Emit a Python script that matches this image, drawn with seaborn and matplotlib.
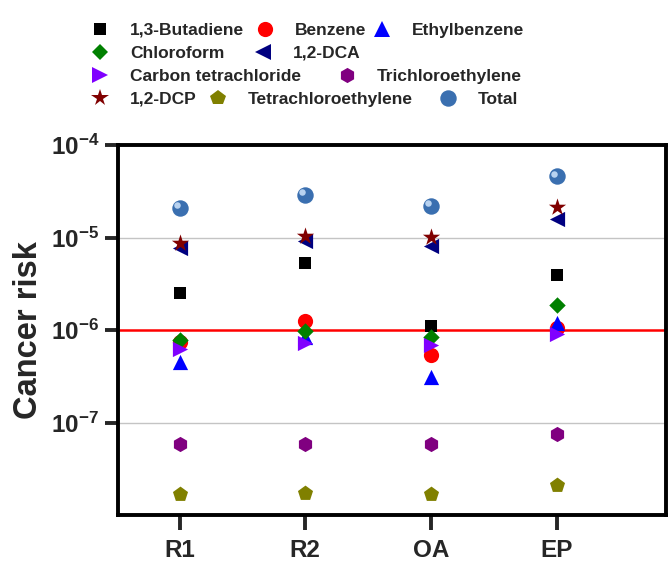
import seaborn as sns
import pandas as pd
import numpy as np
import matplotlib
matplotlib.use("Agg")
import matplotlib.pyplot as plt
from matplotlib.lines import Line2D
from matplotlib.ticker import FixedLocator, FuncFormatter, NullLocator
from matplotlib.transforms import ScaledTranslation

# cancer risk per site
sites = ["R1", "R2", "OA", "EP"]
butadiene = [2.5e-6, 5.3e-6, 1.1e-6, 3.9e-6]
benzene = [7.5e-7, 1.25e-6, 5.4e-7, 1.05e-6]
ethylbenzene = [4.5e-7, 8.4e-7, 3.1e-7, 1.2e-6]
chloroform = [7.9e-7, 9.8e-7, 8.5e-7, 1.85e-6]
dca = [7.7e-6, 9.3e-6, 8.1e-6, 1.6e-5]
carbon_tet = [6.3e-7, 7.2e-7, 6.9e-7, 9.1e-7]
tce = [5.8e-8, 5.8e-8, 5.8e-8, 7.5e-8]
dcp = [8.8e-6, 1.03e-5, 1.02e-5, 2.15e-5]
pce = [1.68e-8, 1.75e-8, 1.68e-8, 2.1e-8]
total = [2.1e-5, 2.9e-5, 2.2e-5, 4.6e-5]
threshold = 1e-6

# name, values, marker, colour, size
series = [
    ("1,3-Butadiene", butadiene, "s", "#000000", 85),
    ("Benzene", benzene, "o", "#ff0000", 120),
    ("Ethylbenzene", ethylbenzene, "^", "#0000ff", 120),
    ("Chloroform", chloroform, "D", "#008000", 70),
    ("1,2-DCA", dca, "<", "#000080", 120),
    ("Carbon tetrachloride", carbon_tet, ">", "#8000ff", 120),
    ("Trichloroethylene", tce, "h", "#800080", 120),
    ("1,2-DCP", dcp, "*", "#800000", 170),
    ("Tetrachloroethylene", pce, "p", "#808000", 130),
    ("Total", total, "o", "#3a6fb0", 140),
]

sns.set_style("white")
plt.rcParams["font.family"] = ["Liberation Sans", "DejaVu Sans"]
plt.rcParams["font.weight"] = "bold"
plt.rcParams["mathtext.fontset"] = "custom"
plt.rcParams["mathtext.bf"] = "Liberation Sans:bold"
plt.rcParams["mathtext.rm"] = "Liberation Sans:bold"

fig = plt.figure(figsize=(6.7, 5.62), dpi=100)
ax = fig.add_axes([0.176, 0.0836, 0.818, 0.658])

for name, vals, mk, col, sz in series:
    df = pd.DataFrame({"site": sites, "risk": vals})
    sns.scatterplot(data=df, x="site", y="risk", marker=mk, color=col, s=sz,
                    linewidth=0, ax=ax, zorder=3)

# highlight on the "Total" spheres
hl = ScaledTranslation(-2 / 72, 2 / 72, fig.dpi_scale_trans)
ax.scatter(sites, total, s=22, color="#b8d2f0", linewidth=0, zorder=4,
           transform=ax.transData + hl)

ax.set_yscale("log")
ax.set_ylim(1e-8, 1e-4)
ax.set_xlim(-0.49, 3.87)
ax.yaxis.set_major_locator(FixedLocator([1e-7, 1e-6, 1e-5, 1e-4]))
ax.yaxis.set_minor_locator(NullLocator())
ax.yaxis.set_major_formatter(FuncFormatter(lambda v, p: r"$\mathbf{10^{%d}}$" % round(np.log10(v))))

ax.axhline(threshold, color="#ff0000", lw=1.8, zorder=2)
for g in [1e-7, 1e-5]:
    ax.axhline(g, color="#c4c4c4", lw=1.0, zorder=1)

for sp in ax.spines.values():
    sp.set_linewidth(2.8)
    sp.set_color("black")

ax.tick_params(axis="y", which="major", direction="out", length=9.4, width=2.8,
               labelsize=17.5, pad=4, left=True)
ax.tick_params(axis="x", which="major", direction="out", length=11, width=2.8,
               labelsize=17.5, pad=6.5, bottom=True)
for lab in ax.get_xticklabels():
    lab.set_fontweight("bold")

ax.set_xlabel("")
ax.set_ylabel("Cancer risk", fontsize=23.5, fontweight="bold")
ax.yaxis.set_label_coords(-0.135, 0.5)

# legend laid out row by row as in the figure: (index, marker x px, row y px)
layout = [
    (0, 100, 30), (1, 265, 30), (2, 382, 30),
    (3, 100, 53), (4, 263, 53),
    (5, 100, 76), (6, 347, 76),
    (7, 100, 99), (8, 218, 99), (9, 448, 99),
]
W, H = 670, 562
fs = 12.5
half = fs * 100 / 72 / 2
for idx, mx, my in layout:
    name, vals, mk, col, sz = series[idx]
    h = Line2D([], [], linestyle="none", marker=mk, color=col,
               markersize=np.sqrt(sz), markeredgewidth=0)
    fig.legend(handles=[h], labels=[name], loc="center left",
               bbox_to_anchor=((mx - half) / W, 1 - my / H),
               frameon=False, handlelength=1.0,
               handletextpad=1.22, borderpad=0, borderaxespad=0,
               prop={"weight": "bold", "size": fs})

fig.savefig("out.png", dpi=100)
